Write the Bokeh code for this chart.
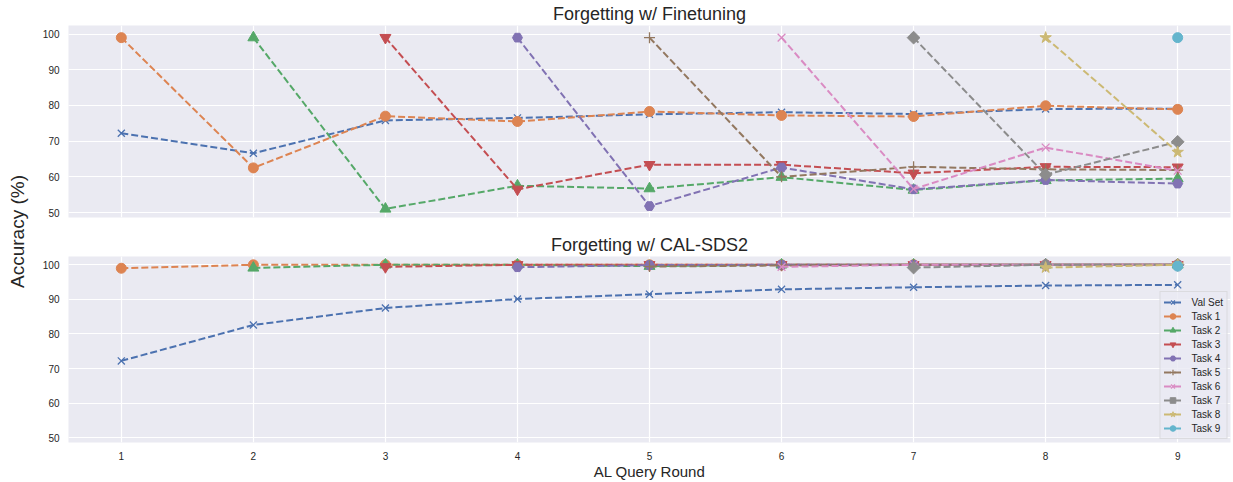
import numpy as np
from bokeh.plotting import figure
from bokeh.layouts import row, column
from bokeh.models import FixedTicker, Label, Range1d, Legend
from bokeh.embed import file_html
from bokeh.resources import INLINE

rounds = [1, 2, 3, 4, 5, 6, 7, 8, 9]
series_names = ["Val Set", "Task 1", "Task 2", "Task 3", "Task 4", "Task 5",
                "Task 6", "Task 7", "Task 8", "Task 9"]

# Forgetting w/ Finetuning
ft_val = [72.2, 66.6, 75.8, 76.5, 77.5, 78.1, 77.6, 79.0, 79.1]
ft_task1 = [99.0, 62.5, 77.0, 75.5, 78.3, 77.2, 76.9, 79.9, 78.9]
ft_task2 = [None, 99.0, 51.0, 57.5, 56.7, 59.9, 56.3, 59.0, 59.5]
ft_task3 = [None, None, 99.0, 56.5, 63.4, 63.4, 61.0, 62.8, 62.7]
ft_task4 = [None, None, None, 99.0, 51.8, 62.6, 56.5, 59.1, 58.1]
ft_task5 = [None, None, None, None, 99.0, 60.0, 62.8, 62.1, 61.9]
ft_task6 = [None, None, None, None, None, 99.0, 56.6, 68.2, 61.7]
ft_task7 = [None, None, None, None, None, None, 99.0, 60.6, 69.8]
ft_task8 = [None, None, None, None, None, None, None, 99.0, 66.9]
ft_task9 = [None, None, None, None, None, None, None, None, 99.0]

# Forgetting w/ CAL-SDS2
cal_val = [72.2, 82.6, 87.5, 90.1, 91.5, 92.9, 93.5, 94.0, 94.2]
cal_task1 = [99.0, 100.0, 100.0, 100.0, 100.0, 100.0, 100.0, 100.0, 100.0]
cal_task2 = [None, 99.1, 100.0, 100.0, 99.6, 100.0, 100.0, 100.0, 100.0]
cal_task3 = [None, None, 99.4, 100.0, 100.0, 100.0, 100.0, 100.0, 100.0]
cal_task4 = [None, None, None, 99.3, 99.9, 100.0, 100.0, 100.0, 100.0]
cal_task5 = [None, None, None, None, 99.5, 99.8, 100.0, 100.0, 100.0]
cal_task6 = [None, None, None, None, None, 99.4, 100.0, 100.0, 100.0]
cal_task7 = [None, None, None, None, None, None, 99.2, 100.0, 100.0]
cal_task8 = [None, None, None, None, None, None, None, 99.2, 100.0]
cal_task9 = [None, None, None, None, None, None, None, None, 99.6]

y_ticks = [50, 60, 70, 80, 90, 100]

colors = ["#4C72B0", "#DD8452", "#55A868", "#C44E52", "#8172B3", "#937860",
          "#DA8BC3", "#8C8C8C", "#CCB974", "#64B5CD"]
markers = [("x", 10, 0), ("circle", 10, 0), ("triangle", 11, 0), ("inverted_triangle", 11, 0),
           ("hex", 10, 0), ("cross", 11, 0), ("x", 11, 0), ("square", 9, np.pi / 4),
           ("star", 12, 0), ("circle", 10, 0)]

FONT = "Liberation Sans"
TXT = "#262626"
BG = "#EAEAF2"
LAB_W = 30
FIG_W = 1203


def make_fig(title, height, top, bottom, show_x):
    p = figure(width=FIG_W, height=height, output_backend="svg", toolbar_location=None,
               x_range=Range1d(0.6, 9.4), y_range=Range1d(48.6, 102.4),
               min_border_left=38, min_border_right=3, min_border_top=top,
               min_border_bottom=bottom)
    p.title.text = title
    p.title.text_font = FONT
    p.title.text_font_size = "18px"
    p.title.text_font_style = "normal"
    p.title.text_color = TXT
    p.title.align = "center"
    p.title.standoff = 3
    p.background_fill_color = BG
    p.border_fill_color = "white"
    p.outline_line_color = None
    p.xaxis.ticker = FixedTicker(ticks=rounds)
    p.yaxis.ticker = FixedTicker(ticks=y_ticks)
    p.xgrid.ticker = FixedTicker(ticks=rounds)
    p.ygrid.ticker = FixedTicker(ticks=y_ticks)
    p.grid.grid_line_color = "white"
    p.grid.grid_line_width = 1.2
    for ax in p.axis:
        ax.axis_line_color = None
        ax.major_tick_line_color = None
        ax.minor_tick_line_color = None
        ax.major_tick_out = 0
        ax.major_tick_in = 0
        ax.minor_tick_out = 0
        ax.minor_tick_in = 0
        ax.major_label_text_font = FONT
        ax.major_label_text_font_size = "10px"
        ax.major_label_text_color = TXT
        ax.major_label_standoff = 9
    p.xaxis.visible = show_x
    return p


H1, H2 = 225, 257
p1 = make_fig("Forgetting w/ Finetuning", H1, 25, 8, False)
p2 = make_fig("Forgetting w/ CAL-SDS2", H2, 31, 34, True)
p2.xaxis.axis_label = "AL Query Round"
p2.xaxis.axis_label_text_font = FONT
p2.xaxis.axis_label_text_font_size = "15px"
p2.xaxis.axis_label_text_font_style = "normal"
p2.xaxis.axis_label_text_color = TXT
p2.xaxis.axis_label_standoff = 0
p2.xaxis.major_label_standoff = 9

ft_series = [ft_val, ft_task1, ft_task2, ft_task3, ft_task4, ft_task5, ft_task6,
             ft_task7, ft_task8, ft_task9]
cal_series = [cal_val, cal_task1, cal_task2, cal_task3, cal_task4, cal_task5, cal_task6,
              cal_task7, cal_task8, cal_task9]


def draw(p, series, with_legend):
    items = []
    for name, ys, col, (mk, sz, ang) in zip(series_names, series, colors, markers):
        xs = [x for x, y in zip(rounds, ys) if y is not None]
        yv = [y for y in ys if y is not None]
        r1 = p.line(xs, yv, line_color=col, line_width=2, line_dash="7 3")
        if mk in ("x", "cross"):
            r2 = p.scatter(xs, yv, marker=mk, size=sz, line_color=col, line_width=1.3)
        else:
            r2 = p.scatter(xs, yv, marker=mk, size=sz, angle=ang, fill_color=col,
                           line_color=col, line_width=1)
        items.append((name, [r1, r2]))
    if with_legend:
        leg = Legend(items=items, location="bottom_right")
        leg.label_text_font = FONT
        leg.label_text_font_size = "10px"
        leg.label_text_color = TXT
        leg.glyph_width = 18
        leg.glyph_height = 14
        leg.label_height = 14
        leg.spacing = 0
        leg.padding = 3
        leg.margin = 3
        leg.label_standoff = 10
        leg.background_fill_color = BG
        leg.background_fill_alpha = 0.8
        leg.border_line_color = "#CCCCCC"
        leg.border_line_width = 1
        p.add_layout(leg, "center")


draw(p1, ft_series, False)
draw(p2, cal_series, True)

# shared y-axis label
total_h = H1 + H2
lab = figure(width=LAB_W, height=total_h, output_backend="svg", toolbar_location=None,
             x_range=Range1d(0, LAB_W), y_range=Range1d(0, total_h),
             min_border=0, min_border_left=0, min_border_right=0,
             min_border_top=0, min_border_bottom=0)
lab.axis.visible = False
lab.grid.visible = False
lab.outline_line_color = None
lab.background_fill_color = "white"
lab.border_fill_color = "white"
lab.add_layout(Label(x=17, y=total_h - 231, text="Accuracy (%)", angle=np.pi / 2,
                     text_align="center", text_baseline="middle",
                     text_font=FONT, text_font_size="19px", text_color=TXT))

layout = row(lab, column(p1, p2, spacing=0), spacing=0)

open("out.html", "w").write(file_html(layout, INLINE))
